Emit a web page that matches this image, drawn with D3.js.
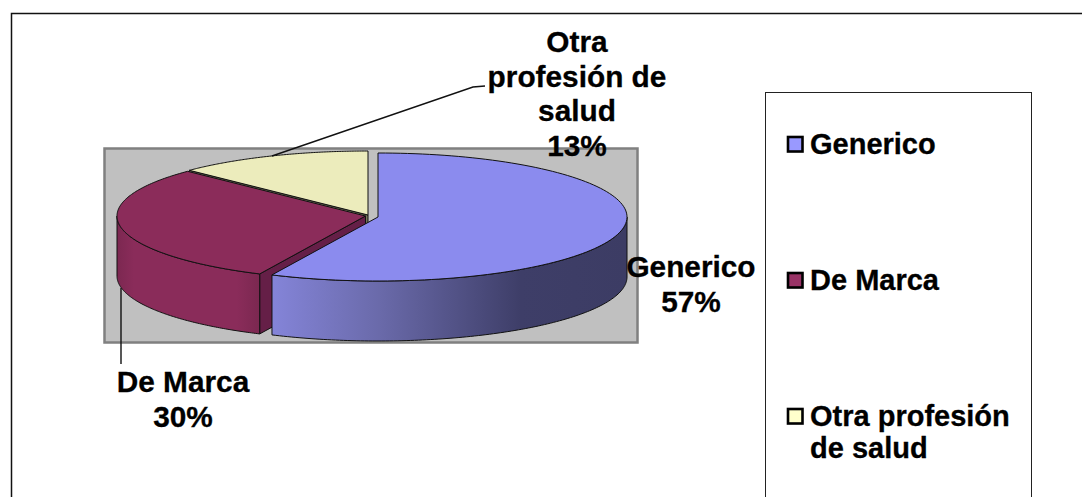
<!DOCTYPE html>
<html>
<head>
<meta charset="utf-8">
<script src="https://cdn.jsdelivr.net/npm/d3@7"></script>
<style>
html,body{margin:0;padding:0;background:#fff;overflow:hidden}
svg{display:block}
text{font-family:"Liberation Sans",Arial,sans-serif;font-weight:bold;fill:#000;stroke:#000;stroke-width:.3px}
</style>
</head>
<body>
<svg id="c" width="1082" height="497"></svg>
<script>
const categories = ["Generico", "De Marca", "Otra profesión de salud"];
const values = [57, 30.3, 12.7];
const percentLabels = ["57%", "30%", "13%"];
const topColors = ["#8b8bee", "#8b2c5a", "#ececbc"];
const wallColors = ["#8080d2", "#8a2c5a", "#a8a886"];
const innerColors = ["#55558f", "#651f47", "#77775a"];
const legendColors = ["#9999ff", "#993366", "#ffffcc"];
const labelLines = [["Generico", "57%"], ["De Marca", "30%"], ["Otra", "profesión de", "salud", "13%"]];
const legendLines = [["Generico"], ["De Marca"], ["Otra profesión", "de salud"]];

const LABEL_FONT = 29.8, LEGEND_FONT = 29;
const svg = d3.select("#c");

// outer frame (open on right/bottom: it runs past the window)
svg.append("rect").attr("x", 11.5).attr("y", 13.5).attr("width", 1200).attr("height", 600)
  .attr("fill", "#fff").attr("stroke", "#111").attr("stroke-width", 1.5);

// plot area
svg.append("rect").attr("x", 104.5).attr("y", 148.5).attr("width", 533).attr("height", 194)
  .attr("fill", "#c0c0c0").attr("stroke", "#808080").attr("stroke-width", 2.5);

const slices = d3.pie().sort(null).value(d => d)(values);
const radii = [249, 248.5, 249.5];
const ry = 64, depth = 60;
const centres = [[378, 217], [365.5, 216], [368, 215]];
const line = d3.line();
const defs = svg.append("defs");

const sideGrad = defs.append("linearGradient").attr("id", "gBlue")
  .attr("gradientUnits", "userSpaceOnUse").attr("x1", 273).attr("x2", 627).attr("y1", 0).attr("y2", 0);
[[0, "#8484d8"], [0.3, "#6a6aaa"], [0.7, "#3e3e68"], [1, "#3c3c64"]]
  .forEach(s => sideGrad.append("stop").attr("offset", s[0]).attr("stop-color", s[1]));
const sideGrad2 = defs.append("linearGradient").attr("id", "gMarca")
  .attr("gradientUnits", "userSpaceOnUse").attr("x1", 117).attr("x2", 258).attr("y1", 0).attr("y2", 0);
[[0, "#7c2851"], [0.12, "#8a2c5a"], [0.85, "#8a2c5a"], [1, "#7c2851"]]
  .forEach(s => sideGrad2.append("stop").attr("offset", s[0]).attr("stop-color", s[1]));

const pt = (i, a, dy = 0) => [centres[i][0] + radii[i] * Math.sin(a), centres[i][1] - ry * Math.cos(a) + dy];
const arcPts = (i, a0, a1, dy = 0) => d3.range(0, 121).map(k => pt(i, a0 + (a1 - a0) * k / 120, dy));

function drawSlice(i, wallFill) {
  const s = slices[i];
  const c = centres[i];
  const g = svg.append("g").attr("stroke", "#111").attr("stroke-width", 1).attr("stroke-linejoin", "round");
  // radial walls facing the viewer
  if (i === 1) {
    g.append("path").attr("fill", innerColors[1]).attr("d", line([
      c, pt(1, s.startAngle), pt(1, s.startAngle, depth), [c[0], c[1] + depth]]) + "Z");
  }
  if (i === 2) {
    g.append("path").attr("fill", innerColors[2]).attr("d", line([
      pt(2, s.startAngle), c, [c[0], c[1] + depth], pt(2, s.startAngle, depth)]) + "Z");
  }
  // outer wall: the part of the rim on the front half
  const a0 = Math.max(s.startAngle, Math.PI / 2), a1 = Math.min(s.endAngle, 3 * Math.PI / 2);
  if (a1 > a0) {
    g.append("path").attr("fill", wallFill)
      .attr("d", line(arcPts(i, a0, a1).concat(arcPts(i, a1, a0, depth))) + "Z");
  }
  // top face
  g.append("path").attr("fill", topColors[i])
    .attr("d", line([c].concat(arcPts(i, s.startAngle, s.endAngle))) + "Z");
}
drawSlice(2, wallColors[2]);
drawSlice(1, "url(#gMarca)");
drawSlice(0, "url(#gBlue)");

// leader lines
const leaders = [[[272, 156], [473, 87], [485, 86]], [[121, 288], [121, 364]]];
svg.append("g").attr("fill", "none").attr("stroke", "#111").attr("stroke-width", 1.4)
  .selectAll("path").data(leaders).join("path").attr("d", d => line(d));

// data labels
const labelAnchors = [[691, 277, 35], [183, 392, 35], [577, 52, 34.7]];
labelLines.forEach((ls, i) => {
  const [x, y, lh] = labelAnchors[i];
  svg.append("g").selectAll("text").data(ls).join("text")
    .attr("x", x).attr("y", (d, k) => y + k * lh)
    .attr("text-anchor", "middle").attr("font-size", LABEL_FONT).text(d => d);
});

// legend
svg.append("rect").attr("x", 765.5).attr("y", 92.5).attr("width", 266).attr("height", 600)
  .attr("fill", "#fff").attr("stroke", "#222").attr("stroke-width", 1);
const legendY = d3.scaleOrdinal().domain(categories).range([144, 280, 416]);
categories.forEach((c, i) => {
  const y = legendY(c);
  svg.append("rect").attr("x", 788).attr("y", y - 7).attr("width", 14.5).attr("height", 14.5)
    .attr("fill", legendColors[i]).attr("stroke", "#000").attr("stroke-width", 2.6);
  svg.append("g").selectAll("text").data(legendLines[i]).join("text")
    .attr("x", 810).attr("y", (d, k) => y + 9.5 + k * 32.5)
    .attr("font-size", LEGEND_FONT).text(d => d);
});
</script>
</body>
</html>
